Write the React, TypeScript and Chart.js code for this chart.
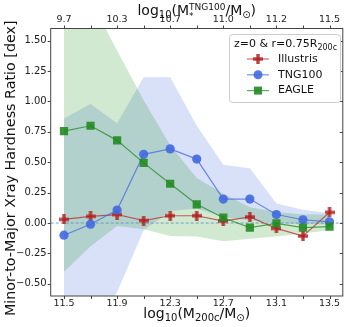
import React, { useEffect, useRef } from 'react';
import { Chart, registerables } from 'chart.js';

Chart.register(...registerables);

// ---- data ----
const massBins = [11.5, 11.7, 11.9, 12.1, 12.3, 12.5, 12.7, 12.9, 13.1, 13.3, 13.5];
const illustris = [0.03, 0.055, 0.07, 0.02, 0.06, 0.06, 0.016, 0.05, -0.044, -0.107, 0.088];
const tng100 = [-0.1, -0.01, 0.107, 0.565, 0.61, 0.526, 0.197, 0.197, 0.07, 0.027, 0.01];
const eagle = [0.756, 0.8, 0.68, 0.495, 0.323, 0.154, 0.044, -0.038, -0.003, -0.038, -0.03];
const tngUpper = [0.86, 0.98, 0.82, 1.2, 1.2, 0.8, 0.48, 0.45, 0.16, 0.11, 0.08];
const tngLower = [-0.9, -0.9, -0.57, -0.06, 0.1, 0.12, 0.05, 0.02, 0.0, -0.01, -0.01];
const eagleUpper = [1.9, 1.83, 1.42, 1.01, 0.64, 0.37, 0.24, 0.13, 0.09, 0.07, 0.07];
const eagleLower = [-0.4, -0.19, -0.025, -0.05, -0.107, -0.11, -0.15, -0.13, -0.11, -0.085, -0.06];

const bottomTicks = [11.5, 11.9, 12.3, 12.7, 13.1, 13.5];
const minorTicks = [11.7, 12.1, 12.5, 12.9, 13.3];
const bottomTickLabels = ['11.5', '11.9', '12.3', '12.7', '13.1', '13.5'];
const topTickLabels = ['9.7', '10.3', '10.7', '11.0', '11.2', '11.5'];
const yTicks = [-0.5, -0.25, 0, 0.25, 0.5, 0.75, 1.0, 1.25, 1.5];
const seriesNames = ['Illustris', 'TNG100', 'EAGLE'];
const legendTitle = 'z=0 & r=0.75R';
const legendTitleSub = '200c';

const FONT = "'DejaVu Sans', sans-serif";
const RED = 'rgba(178,34,34,0.85)';
const BLUE = 'rgba(65,105,225,0.9)';
const GREEN = 'rgba(34,139,34,0.9)';

function plusCanvas(color: string, size: number, arm: number) {
  const c = document.createElement('canvas');
  c.width = size;
  c.height = size;
  const g = c.getContext('2d')!;
  g.fillStyle = color;
  const o = (size - arm) / 2;
  g.fillRect(o, 0, arm, size);
  g.fillRect(0, o, size, arm);
  return c;
}

type Seg = { t?: string; size: number; dy?: number; sub?: string; sup?: string };

function segWidth(ctx: CanvasRenderingContext2D, s: Seg) {
  ctx.font = `${s.size}px ${FONT}`;
  if (s.sub !== undefined || s.sup !== undefined) {
    return Math.max(ctx.measureText(s.sub || '').width, ctx.measureText(s.sup || '').width);
  }
  return ctx.measureText(s.t || '').width;
}

function drawRich(ctx: CanvasRenderingContext2D, segs: Seg[], x: number, y: number, align: 'left' | 'center') {
  const total = segs.reduce((a, s) => a + segWidth(ctx, s), 0);
  let cx = align === 'center' ? x - total / 2 : x;
  ctx.textBaseline = 'alphabetic';
  ctx.textAlign = 'left';
  for (const s of segs) {
    const w = segWidth(ctx, s);
    ctx.font = `${s.size}px ${FONT}`;
    if (s.sub !== undefined || s.sup !== undefined) {
      if (s.sub) ctx.fillText(s.sub, cx, y + s.size * 0.45);
      if (s.sup) ctx.fillText(s.sup, cx, y - s.size * 0.6);
    } else {
      ctx.fillText(s.t || '', cx, y + (s.dy || 0));
    }
    cx += w;
  }
}

const xTickList = [...bottomTicks, ...minorTicks].sort((a, b) => a - b);

function labelFor(v: number, labels: string[]) {
  const i = bottomTicks.findIndex((t) => Math.abs(t - v) < 1e-6);
  return i >= 0 ? labels[i] : '';
}

export default function App() {
  const ref = useRef<HTMLCanvasElement | null>(null);

  useEffect(() => {
    const canvas = ref.current!;
    const plusImg = plusCanvas(RED, 10, 3.4);
    const pts = (arr: number[]) => massBins.map((x, i) => ({ x, y: arr[i] }));

    const bandDs = (arr: number[], fillTarget: number | false, color: string, order: number) => ({
      label: '',
      data: pts(arr),
      borderWidth: 0,
      pointRadius: 0,
      borderColor: 'rgba(0,0,0,0)',
      backgroundColor: color,
      fill: fillTarget === false ? false : { target: fillTarget },
      order,
      tension: 0,
    });

    const framePlugin = {
      id: 'frame',
      beforeDatasetDraw(chart: any, args: any) {
        if (args.index !== 0) return;
        const { ctx, chartArea: a, scales } = chart;
        const py = scales.y.getPixelForValue(0);
        ctx.save();
        ctx.strokeStyle = 'rgba(70,140,190,0.75)';
        ctx.lineWidth = 1;
        ctx.setLineDash([3, 2]);
        ctx.beginPath();
        ctx.moveTo(a.left, py);
        ctx.lineTo(a.right, py);
        ctx.stroke();
        ctx.restore();
      },
      afterDraw(chart: any) {
        const { ctx, chartArea: a, scales } = chart;
        ctx.save();
        ctx.strokeStyle = '#444';
        ctx.lineWidth = 1;
        ctx.strokeRect(a.left, a.top, a.right - a.left, a.bottom - a.top);
        const tl = 3;
        ctx.beginPath();
        for (const v of xTickList) {
          const px = Math.round(scales.x.getPixelForValue(v)) + 0.5;
          ctx.moveTo(px, a.bottom);
          ctx.lineTo(px, a.bottom + tl);
          ctx.moveTo(px, a.top);
          ctx.lineTo(px, a.top - tl);
        }
        for (const v of yTicks) {
          const py = Math.round(scales.y.getPixelForValue(v)) + 0.5;
          ctx.moveTo(a.left, py);
          ctx.lineTo(a.left - tl, py);
          ctx.moveTo(a.right, py);
          ctx.lineTo(a.right - tl, py);
        }
        ctx.stroke();

        ctx.fillStyle = '#111';
        // bottom title
        drawRich(
          ctx,
          [
            { t: 'log', size: 14 },
            { t: '10', size: 10, dy: 3 },
            { t: '(M', size: 14 },
            { t: '200c', size: 10, dy: 3 },
            { t: '/M', size: 14 },
            { t: '\u2299', size: 10, dy: 3 },
            { t: ')', size: 14 },
          ],
          (a.left + a.right) / 2,
          318,
          'center'
        );
        // top title
        drawRich(
          ctx,
          [
            { t: 'log', size: 14 },
            { t: '10', size: 10, dy: 3 },
            { t: '(M', size: 14 },
            { sub: '*', sup: 'TNG100', size: 9 },
            { t: '/M', size: 14 },
            { t: '\u2299', size: 10, dy: 3 },
            { t: ')', size: 14 },
          ],
          (a.left + a.right) / 2,
          15,
          'center'
        );
        // left title
        ctx.save();
        ctx.translate(15, (a.top + a.bottom) / 2 + 6);
        ctx.rotate(-Math.PI / 2);
        ctx.font = `14.3px ${FONT}`;
        ctx.textAlign = 'center';
        ctx.textBaseline = 'alphabetic';
        ctx.fillText('Minor-to-Major Xray Hardness Ratio [dex]', 0, 0);
        ctx.restore();

        // legend
        const lx = 229, ly = 34, lw = 111, lh = 68;
        ctx.save();
        ctx.fillStyle = 'rgba(255,255,255,0.85)';
        ctx.strokeStyle = '#ccc';
        ctx.lineWidth = 1;
        ctx.beginPath();
        (ctx as any).roundRect(lx + 0.5, ly + 0.5, lw, lh, 3);
        ctx.fill();
        ctx.stroke();
        ctx.restore();
        ctx.fillStyle = '#111';
        drawRich(
          ctx,
          [
            { t: legendTitle, size: 11 },
            { t: legendTitleSub, size: 8, dy: 3 },
          ],
          lx + 5,
          ly + 13,
          'left'
        );
        const rows = [ly + 25, ly + 40.8, ly + 56.6];
        const cols = [RED, BLUE, GREEN];
        rows.forEach((ry, i) => {
          ctx.save();
          ctx.strokeStyle = cols[i];
          ctx.globalAlpha = 0.8;
          ctx.lineWidth = 1.2;
          ctx.beginPath();
          ctx.moveTo(lx + 18, ry);
          ctx.lineTo(lx + 40, ry);
          ctx.stroke();
          ctx.globalAlpha = 1;
          ctx.fillStyle = cols[i];
          const mx = lx + 29;
          if (i === 0) ctx.drawImage(plusImg, mx - 5, ry - 5);
          else if (i === 1) {
            ctx.beginPath();
            ctx.arc(mx, ry, 4.5, 0, Math.PI * 2);
            ctx.fill();
          } else ctx.fillRect(mx - 4, ry - 4, 8, 8);
          ctx.restore();
          ctx.fillStyle = '#111';
          ctx.font = `11px ${FONT}`;
          ctx.textAlign = 'left';
          ctx.textBaseline = 'middle';
          ctx.fillText(seriesNames[i], lx + 49, ry);
        });
        ctx.restore();
      },
    };

    const chart = new Chart(canvas, {
      type: 'line',
      data: {
        datasets: [
          {
            label: seriesNames[0],
            data: pts(illustris),
            borderColor: 'rgba(178,34,34,0.7)',
            borderWidth: 1.2,
            pointStyle: plusImg as any,
            pointRadius: 5,
            fill: false,
            order: 3,
            tension: 0,
          },
          {
            label: seriesNames[1],
            data: pts(tng100),
            borderColor: 'rgba(65,105,225,0.75)',
            backgroundColor: BLUE,
            borderWidth: 1.2,
            pointStyle: 'circle',
            pointRadius: 4.6,
            pointBorderWidth: 0,
            fill: false,
            order: 2,
            tension: 0,
          },
          {
            label: seriesNames[2],
            data: pts(eagle),
            borderColor: 'rgba(34,139,34,0.75)',
            backgroundColor: GREEN,
            borderWidth: 1.2,
            pointStyle: 'rect',
            pointRadius: 5.8,
            pointBorderWidth: 0,
            fill: false,
            order: 1,
            tension: 0,
          },
          bandDs(eagleUpper, 4, 'rgba(0,128,0,0.18)', 11),
          bandDs(eagleLower, false, 'rgba(0,0,0,0)', 12),
          bandDs(tngUpper, 6, 'rgba(65,105,225,0.2)', 13),
          bandDs(tngLower, false, 'rgba(0,0,0,0)', 14),
        ] as any,
      },
      options: {
        animation: false,
        responsive: false,
        maintainAspectRatio: false,
        layout: { padding: { left: 0, right: 2.3, top: 0, bottom: 0 } },
        plugins: { legend: { display: false }, tooltip: { enabled: false } },
        scales: {
          x: {
            type: 'linear',
            position: 'bottom',
            min: 11.4,
            max: 13.6,
            afterFit: (s: any) => {
              s.height = 31;
            },
            afterBuildTicks: (s: any) => {
              s.ticks = xTickList.map((v) => ({ value: v }));
            },
            ticks: {
              autoSkip: false,
              maxRotation: 0,
              padding: 2,
              color: '#222',
              font: { family: FONT, size: 9.5 },
              callback: (v: any) => labelFor(Number(v), bottomTickLabels),
            },
            grid: { display: false, drawTicks: false },
            border: { display: false },
          },
          x2: {
            type: 'linear',
            position: 'top',
            min: 11.4,
            max: 13.6,
            afterFit: (s: any) => {
              s.height = 28.5;
            },
            afterBuildTicks: (s: any) => {
              s.ticks = xTickList.map((v) => ({ value: v }));
            },
            ticks: {
              autoSkip: false,
              maxRotation: 0,
              padding: 3,
              color: '#222',
              font: { family: FONT, size: 9.5 },
              callback: (v: any) => labelFor(Number(v), topTickLabels),
            },
            grid: { display: false, drawTicks: false },
            border: { display: false },
          },
          y: {
            min: -0.6,
            max: 1.6,
            afterFit: (s: any) => {
              s.width = 50.7;
            },
            afterBuildTicks: (s: any) => {
              s.ticks = yTicks.map((v) => ({ value: v }));
            },
            ticks: {
              autoSkip: false,
              padding: 4,
              color: '#222',
              font: { family: FONT, size: 10 },
              callback: (v: any) => {
                const n = Number(v);
                const s = Math.abs(n).toFixed(2);
                return n < -1e-9 ? '\u2212' + s : s;
              },
            },
            grid: { display: false, drawTicks: false },
            border: { display: false },
          },
        },
      },
      plugins: [framePlugin],
    });

    return () => chart.destroy();
  }, []);

  return (
    <div style={{ position: 'fixed', left: 0, top: 0, width: 349, height: 327, background: '#fff' }}>
      <canvas ref={ref} width={349} height={327} style={{ display: 'block', width: 349, height: 327 }} />
    </div>
  );
}
